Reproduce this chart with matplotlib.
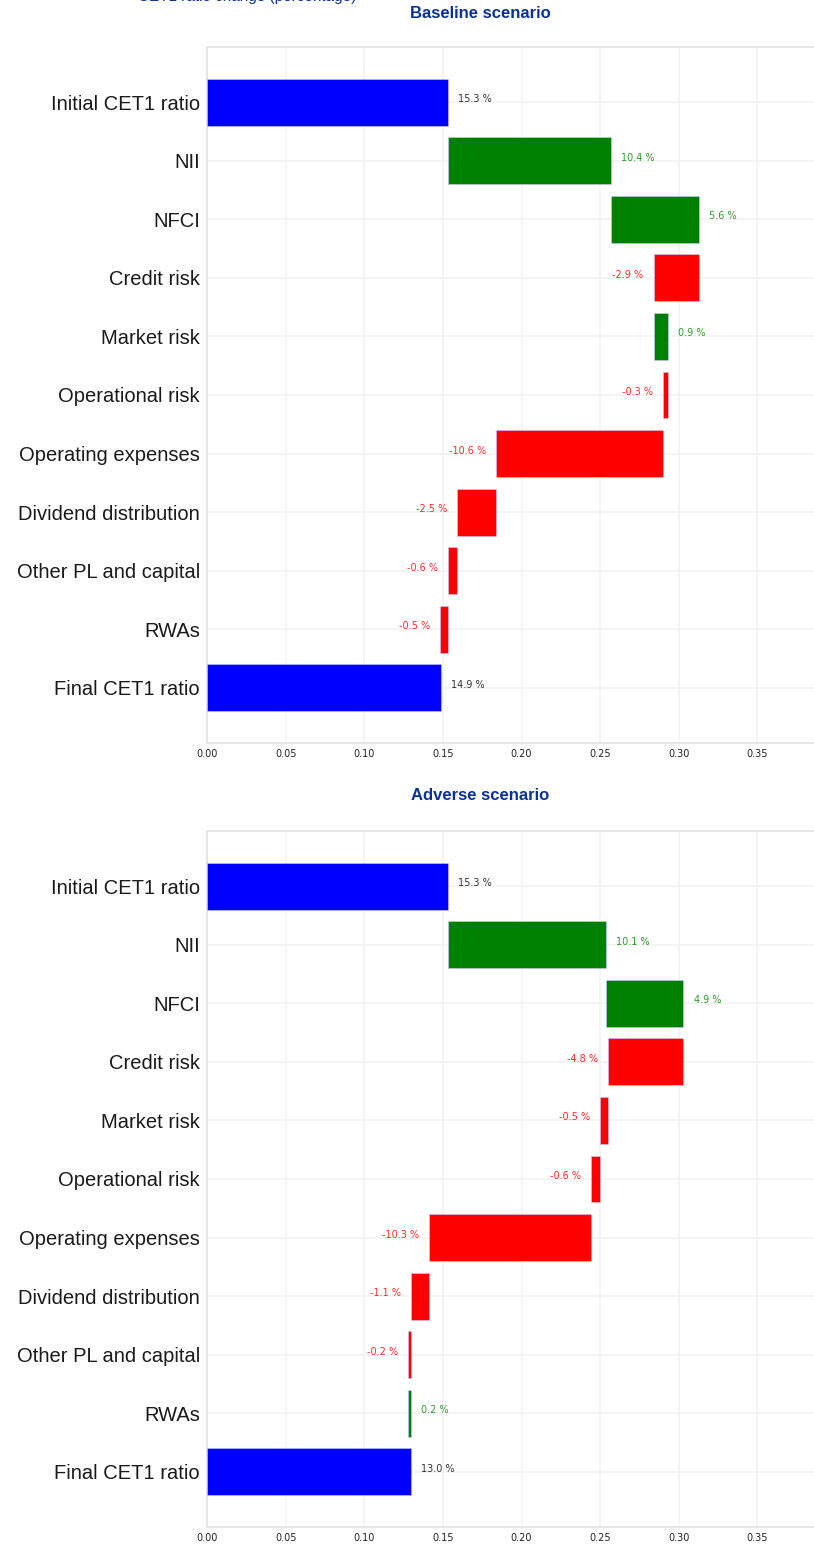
import matplotlib
matplotlib.use("Agg")
import matplotlib.pyplot as plt
import numpy as np

plt.rcParams["font.family"] = ["Liberation Sans", "DejaVu Sans"]

categories = [
    "Initial CET1 ratio",
    "NII",
    "NFCI",
    "Credit risk",
    "Market risk",
    "Operational risk",
    "Operating expenses",
    "Dividend distribution",
    "Other PL and capital",
    "RWAs",
    "Final CET1 ratio",
]

# CET1 contributions (fraction of RWAs)
baseline_initial = 0.153
baseline_steps = [0.104, 0.056, -0.029, 0.009, -0.003, -0.106, -0.025, -0.006, -0.005]
baseline_final = 0.149

adverse_initial = 0.153
adverse_steps = [0.101, 0.049, -0.048, -0.005, -0.006, -0.103, -0.011, -0.002, 0.002]
adverse_final = 0.130

x_ticks = [0.00, 0.05, 0.10, 0.15, 0.20, 0.25, 0.30, 0.35]
x_max = 0.386

W, H = 814, 1546
fig = plt.figure(figsize=(W / 100, H / 100), dpi=100)

grid_col = "#f2f2f2"
spine_col = "#e3e3e3"
title_col = "#0a3296"
narrow = ["Liberation Sans Narrow", "DejaVu Sans"]


def waterfall(ax, initial, steps, final):
    n = len(categories)
    ypos = np.arange(n)[::-1]
    lefts, widths, colors, texts, tcols = [], [], [], [], []
    lefts.append(0)
    widths.append(initial)
    colors.append("#0000ff")
    texts.append(initial)
    tcols.append("#333333")
    level = initial
    for s in steps:
        lefts.append(level if s >= 0 else level + s)
        widths.append(abs(s))
        colors.append("#008000" if s >= 0 else "#ff0000")
        texts.append(s)
        tcols.append("#2e9a2e" if s >= 0 else "#ff2a2a")
        level += s
    lefts.append(0)
    widths.append(final)
    colors.append("#0000ff")
    texts.append(final)
    tcols.append("#333333")

    ax.barh(ypos, widths, left=lefts, height=0.8, color=colors,
            edgecolor="#c8c8ff", linewidth=0.4, zorder=3)
    off = 0.0064
    for y, l, w, t, c in zip(ypos, lefts, widths, texts, tcols):
        lbl = f"{t * 100:.1f} %"
        if t >= 0:
            ax.text(l + w + off, y + 0.05, lbl, ha="left", va="center",
                    fontsize=7, color=c, family=narrow)
        else:
            ax.text(l - off, y + 0.05, lbl, ha="right", va="center",
                    fontsize=7, color=c, family=narrow)

    ax.set_yticks(ypos)
    ax.set_yticklabels(categories, fontsize=14.5, color="#1a1a1a")
    ax.set_xticks(x_ticks)
    ax.set_xticklabels([f"{v:.2f}" for v in x_ticks], fontsize=7,
                       family=narrow, color="#222222")
    ax.set_xlim(0, x_max)
    ax.tick_params(axis="y", length=0, pad=5)
    ax.tick_params(axis="x", length=0, pad=4)
    ax.grid(True, color=grid_col, linewidth=1.2, zorder=0)
    ax.set_axisbelow(True)
    for side in ["left", "bottom", "top"]:
        ax.spines[side].set_color(spine_col)
        ax.spines[side].set_linewidth(1.2)
    ax.spines["right"].set_visible(False)


ax1 = fig.add_axes([207 / W, 1 - 743 / H, (W - 207) / W, (743 - 47) / H])
waterfall(ax1, baseline_initial, baseline_steps, baseline_final)

ax2 = fig.add_axes([207 / W, 1 - 1527 / H, (W - 207) / W, (1527 - 831) / H])
waterfall(ax2, adverse_initial, adverse_steps, adverse_final)

fig.text(480 / W, 1 - 14 / H, "Baseline scenario", ha="center", va="center",
         fontsize=12, fontweight="bold", color=title_col)
fig.text(480 / W, 1 - 796 / H, "Adverse scenario", ha="center", va="center",
         fontsize=12, fontweight="bold", color=title_col)
# header of the original page, mostly cut off at the top edge
fig.text(356 / W, 1 - 0.5 / H, "CET1 ratio change (percentage)", ha="right",
         va="baseline", fontsize=11, color=title_col)

fig.savefig("out.png", dpi=100)
